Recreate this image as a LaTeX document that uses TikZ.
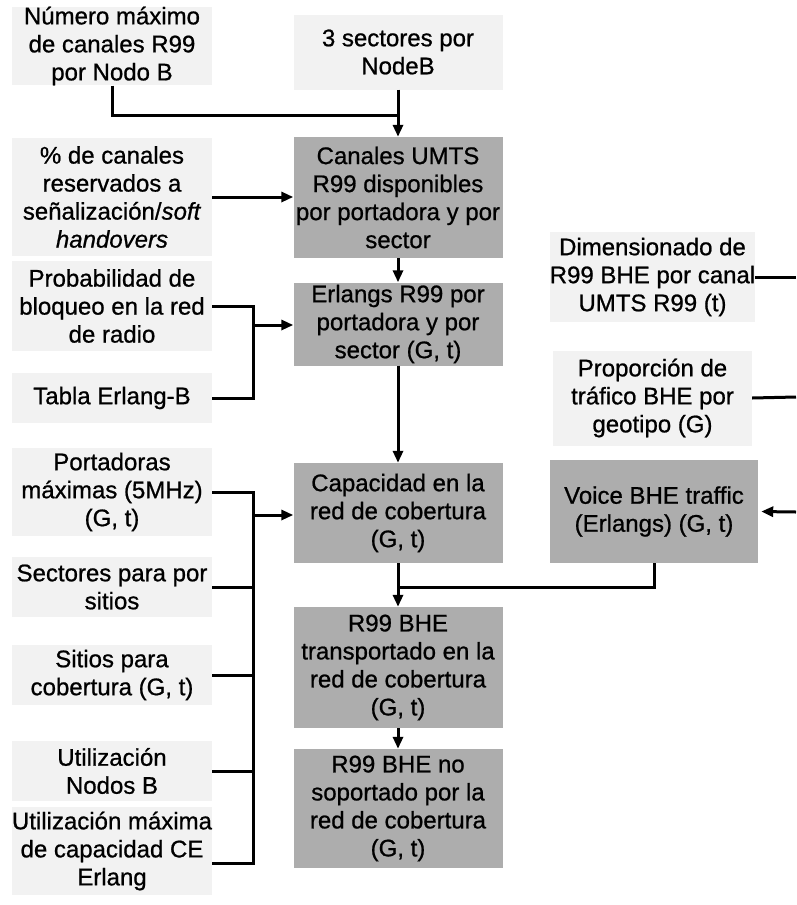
\documentclass[tikz,border=0pt]{standalone}
\usepackage{fontspec}
\setmainfont{Liberation Sans}[FakeBold=0.8]
\usetikzlibrary{arrows.meta,calc}
\begin{document}
\begin{tikzpicture}[x=1pt,y=-1pt,
  txt/.style={align=center, inner sep=0pt, font=\fontsize{24}{28}\selectfont},
  inbox/.style={txt, fill=black!5, minimum width=200pt},
  calcbox/.style={txt, fill=black!32, minimum width=209pt},
  conn/.style={line width=3pt},
  arr/.style={line width=3pt, -{Triangle[length=12pt,width=10pt]}}]
\fill[white] (0,0) rectangle (796,905);
\useasboundingbox (0,0) rectangle (796,905);

% left inputs
\node[inbox, minimum height=78] (numero) at (112,46) {Número máximo\\de canales R99\\por Nodo B};
\node[inbox, minimum height=118] (pct) at (112,197) {\% de canales\\reservados a\\señalización/\textit{soft}\\\textit{handovers}};
\node[inbox, minimum height=90] (probab) at (112,306) {Probabilidad de\\bloqueo en la red\\de radio};
\node[inbox, minimum height=50] (tabla) at (112,398) {Tabla Erlang-B};
\node[inbox, minimum height=88] (portad) at (112,492) {Portadoras\\máximas (5MHz)\\(G, t)};
\node[inbox, minimum height=60] (sectores) at (112,587) {Sectores para por\\sitios};
\node[inbox, minimum height=60] (sitios) at (112,675) {Sitios para\\cobertura (G, t)};
\node[inbox, minimum height=60] (utiliz) at (112,771) {Utilización\\Nodos B};
\node[inbox, minimum height=88] (umax) at (112,851) {Utilización máxima\\de capacidad CE\\Erlang};

% main column
\node[inbox, minimum width=209, minimum height=75] (sect3) at (398,52) {3 sectores por\\NodeB};
\node[calcbox, minimum height=121] (canales) at (398,197.5) {Canales UMTS\\R99 disponibles\\por portadora y por\\sector};
\node[calcbox, minimum height=83] (erlangs) at (398,324) {Erlangs R99 por\\portadora y por\\sector (G, t)};
\node[calcbox, minimum height=100] (capac) at (398,513) {Capacidad en la\\red de cobertura\\(G, t)};
\node[calcbox, minimum height=121] (transp) at (398,667.5) {R99 BHE\\transportado en la\\red de cobertura\\(G, t)};
\node[calcbox, minimum height=119] (nosop) at (398,808.5) {R99 BHE no\\soportado por la\\red de cobertura\\(G, t)};

% right column
\node[inbox, minimum width=199, minimum height=90] (dimens) at (652.5,277) {Dimensionado de\\R99 BHE por canal\\UMTS R99 (t)};
\node[inbox, minimum width=199, minimum height=95] (propor) at (652.5,398) {Proporción de\\tráfico BHE por\\geotipo (G)};
\node[calcbox, minimum width=208, minimum height=103] (voice) at (654,511.5) {Voice BHE traffic\\(Erlangs) (G, t)};

% junction coordinates
\coordinate (j1) at (398,115);
\coordinate (b1) at (253,325);
\coordinate (b2) at (253,515);
\coordinate (j2) at (398,587);
\coordinate (r1) at (796,277);
\coordinate (r2) at (796,397);
\coordinate (r3) at (796,512);

% connectors
\draw[conn] (numero.south) |- (j1);
\draw[arr] (sect3.south) -- (canales.north);
\draw[arr] (pct.east) -- (pct.east -| canales.west);
\draw[conn] (probab.east) -| (b1) |- (tabla.east);
\draw[arr] (b1) -- (b1 -| erlangs.west);
\draw[arr] (canales.south) -- (erlangs.north);
\draw[arr] (erlangs.south) -- (capac.north);

\draw[conn] (portad.east) -| (b2);
\draw[conn] (sectores.east) -- (sectores.east -| b2);
\draw[conn] (sitios.east) -- (sitios.east -| b2);
\draw[conn] (utiliz.east) -- (utiliz.east -| b2);
\draw[conn] ($(umax.east)+(0,12)$) -| (b2);
\draw[arr] (b2) -- (b2 -| capac.west);

\draw[arr] (capac.south) -- (transp.north);
\draw[conn] (voice.south) |- (j2);
\draw[arr] (transp.south) -- (nosop.north);

\draw[conn] (dimens.east) -- (r1);
\draw[conn] (propor.east) -- (r2);
\draw[arr, shorten >=3pt] (r3) -- (voice.east);
\end{tikzpicture}
\end{document}
